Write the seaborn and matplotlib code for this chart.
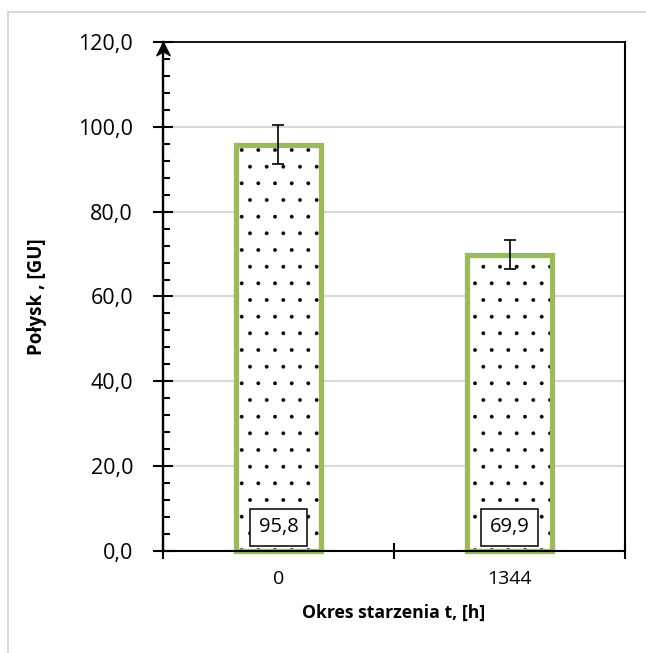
import matplotlib
matplotlib.use("Agg")
import matplotlib.pyplot as plt
import numpy as np
import pandas as pd
import seaborn as sns
from matplotlib.patches import Rectangle
from matplotlib.lines import Line2D
from matplotlib.path import Path
from matplotlib.ticker import MultipleLocator, FixedLocator, FuncFormatter

# Gloss after ageing time
categories = ["0", "1344"]
gloss = [95.8, 69.9]
gloss_err = [4.6, 3.5]

x_title = "Okres starzenia t, [h]"
y_title = "Połysk , [GU]"

GREEN = "#9BBB59"
GRID = "#d9d9d9"


def pl_fmt(v, digits=1):
    return f"{v:.{digits}f}".replace(".", ",")


sns.set_theme(style="white")
plt.rcParams["font.family"] = ["Open Sans", "DejaVu Sans"]
plt.rcParams["hatch.linewidth"] = 0.3

fig = plt.figure(figsize=(6.46, 6.53), dpi=100)
ax = fig.add_axes([0.2523, 0.1562, 0.7152, 0.7795])

df = pd.DataFrame({"t": categories, "gloss": gloss})
sns.barplot(data=df, x="t", y="gloss", order=categories, width=0.37,
            color="white", saturation=1, edgecolor="none", linewidth=0,
            errorbar=None, ax=ax, zorder=2)

# dotted fill and green frame on each bar
for p in list(ax.patches):
    x0, y0 = p.get_x(), p.get_y()
    w, h = p.get_width(), p.get_height()
    ax.add_patch(Rectangle((x0, y0), w, h, facecolor="none", edgecolor="black",
                           lw=0, hatch=".", zorder=3))
    ax.add_patch(Rectangle((x0, y0), w, h, facecolor="none", edgecolor=GREEN,
                           lw=3.8, zorder=4, clip_on=False))

ax.errorbar(x=np.arange(len(gloss)), y=gloss, yerr=gloss_err, fmt="none",
            ecolor="black", elinewidth=1.2, capsize=4, capthick=1.2, zorder=5)

for i, v in enumerate(gloss):
    ax.text(i, 5.6, pl_fmt(v), ha="center", va="center", fontsize=14.5,
            color="black", zorder=6,
            bbox=dict(boxstyle="square,pad=0.42", fc="white", ec="black", lw=1.1))

# y axis
ax.set_ylim(0, 120)
ax.yaxis.set_major_locator(MultipleLocator(20))
ax.yaxis.set_minor_locator(MultipleLocator(4))
ax.yaxis.set_major_formatter(FuncFormatter(lambda v, _: pl_fmt(v)))
ax.tick_params(axis="y", which="major", direction="inout", length=15, width=1.5,
               color="black", labelsize=15.5, labelcolor="black", pad=14, left=True)
ax.tick_params(axis="y", which="minor", direction="in", length=5, width=1.5,
               color="black", left=True)
ax.yaxis.grid(True, which="major", color=GRID, lw=1.5)
ax.set_axisbelow(True)

# x axis
ax.set_xlim(-0.5, len(categories) - 0.5)
ax.xaxis.set_minor_locator(FixedLocator(np.arange(len(categories) + 1) - 0.5))
ax.tick_params(axis="x", which="major", length=0, labelsize=14, labelcolor="black",
               pad=14, bottom=True)
ax.tick_params(axis="x", which="minor", direction="inout", length=12, width=1.5,
               color="black", bottom=True)

ax.set_xlabel(x_title, fontsize=12.7, fontweight="bold", color="black")
ax.set_ylabel(y_title, fontsize=13.5, fontweight="bold", color="black")
ax.xaxis.set_label_coords(0.5, -0.104)
ax.yaxis.set_label_coords(-0.25, 0.5)

for side, lw in {"left": 1.7, "bottom": 1.5, "top": 1.3, "right": 1.5}.items():
    ax.spines[side].set_visible(True)
    ax.spines[side].set_color("black")
    ax.spines[side].set_linewidth(lw)
    ax.spines[side].set_zorder(7)

# arrowhead on the value axis
arrow = Path([(0, 0), (0.5, -1), (0, -0.7), (-0.5, -1), (0, 0)],
             [Path.MOVETO, Path.LINETO, Path.LINETO, Path.LINETO, Path.CLOSEPOLY])
ax.plot([0], [120], marker=arrow, ms=19, color="black", mec="black",
        transform=ax.get_yaxis_transform(), clip_on=False, zorder=8)

# chart area frame
fx, fy = 8 / 646, 1 - 12 / 653
fig.add_artist(Line2D([fx, fx], [0, fy], transform=fig.transFigure, color=GRID, lw=1.5))
fig.add_artist(Line2D([fx, 1], [fy, fy], transform=fig.transFigure, color=GRID, lw=1.5))

fig.savefig("out.png", dpi=100, facecolor="white")
